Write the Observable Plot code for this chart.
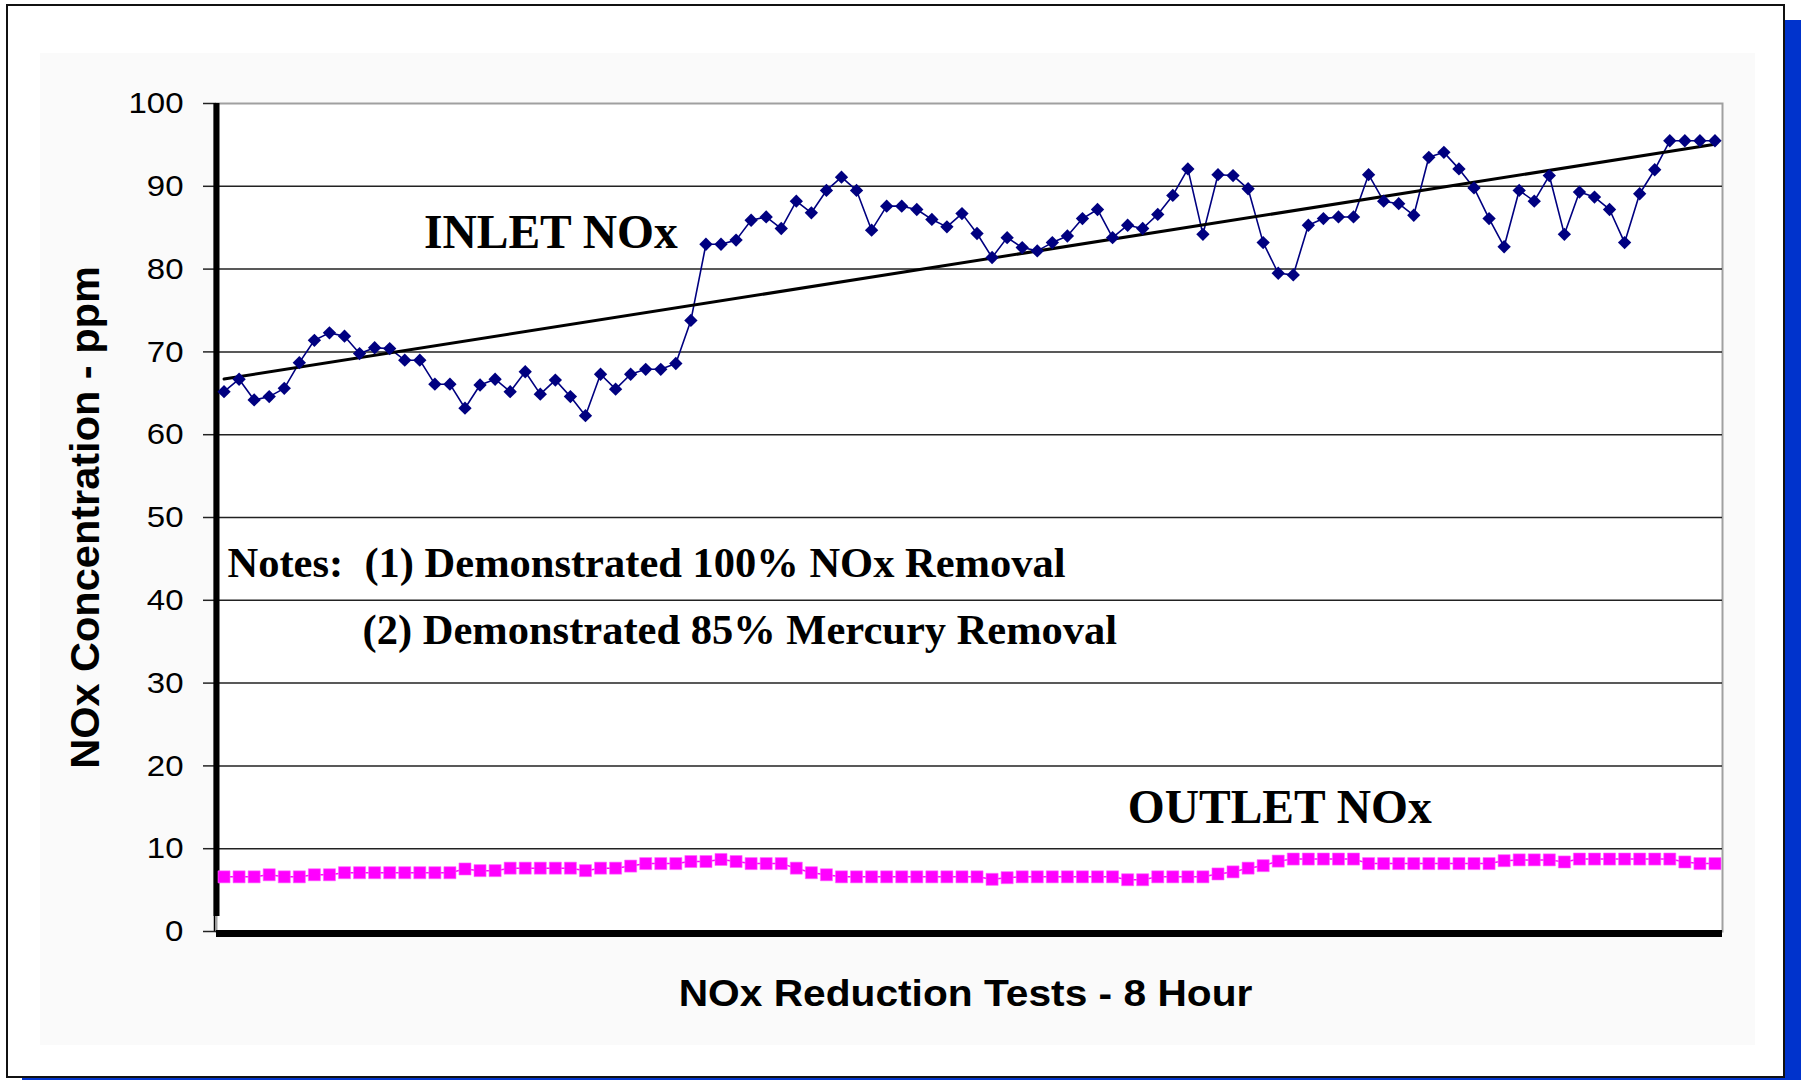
<!DOCTYPE html>
<html>
<head>
<meta charset="utf-8">
<script src="https://cdn.jsdelivr.net/npm/d3@7"></script>
<script src="https://cdn.jsdelivr.net/npm/@observablehq/plot@0.6"></script>
<style>
html, body { margin: 0; padding: 0; background: #fff; overflow: hidden; }
#page { position: relative; width: 1801px; height: 1080px; overflow: hidden; }
#shadow { position: absolute; left: 22px; top: 20px; width: 1779px; height: 1074px; background: #0033cc; }
#frame { position: absolute; left: 6px; top: 4px; width: 1775px; height: 1070px; border: 2px solid #111; background: #fff; }
#panel { position: absolute; left: 40px; top: 53px; width: 1715px; height: 992px; background: #fafafa; }
#chart { position: absolute; left: 0; top: 0; }
svg text { white-space: pre; }
</style>
</head>
<body>
<div id="page">
  <div id="shadow"></div>
  <div id="frame"></div>
  <div id="panel"></div>
  <div id="chart"></div>
</div>
<script>
// ---- data (100 readings, 8-hour test) ----
const inletNOx = [
  65.2, 66.7, 64.2, 64.6, 65.6, 68.7, 71.4, 72.3, 71.9, 69.8,
  70.5, 70.4, 69.0, 69.0, 66.1, 66.1, 63.2, 66.0, 66.7, 65.2,
  67.6, 64.9, 66.6, 64.6, 62.3, 67.3, 65.5, 67.3, 67.9, 67.9,
  68.6, 73.8, 83.0, 83.0, 83.5, 85.9, 86.3, 84.9, 88.2, 86.8,
  89.5, 91.1, 89.5, 84.7, 87.6, 87.6, 87.2, 86.0, 85.1, 86.7,
  84.3, 81.4, 83.8, 82.6, 82.2, 83.2, 84.0, 86.1, 87.2, 83.8,
  85.3, 84.9, 86.6, 88.9, 92.1, 84.2, 91.4, 91.3, 89.7, 83.2,
  79.5, 79.3, 85.3, 86.1, 86.3, 86.3, 91.4, 88.2, 87.9, 86.5,
  93.5, 94.1, 92.1, 89.8, 86.1, 82.7, 89.5, 88.2, 91.3, 84.2,
  89.3, 88.7, 87.2, 83.2, 89.1, 92.0, 95.5, 95.5, 95.5, 95.5
];
const outletNOx = [
  6.6, 6.6, 6.6, 6.85, 6.6, 6.6, 6.85, 6.85, 7.1, 7.1,
  7.1, 7.1, 7.1, 7.1, 7.1, 7.1, 7.55, 7.35, 7.35, 7.65,
  7.65, 7.65, 7.65, 7.65, 7.35, 7.65, 7.65, 7.9, 8.2, 8.2,
  8.2, 8.45, 8.45, 8.7, 8.45, 8.2, 8.2, 8.2, 7.65, 7.1,
  6.85, 6.6, 6.6, 6.6, 6.6, 6.6, 6.6, 6.6, 6.6, 6.6,
  6.6, 6.3, 6.5, 6.6, 6.6, 6.6, 6.6, 6.6, 6.6, 6.6,
  6.25, 6.25, 6.6, 6.6, 6.6, 6.6, 6.95, 7.2, 7.65, 7.95,
  8.5, 8.75, 8.75, 8.75, 8.75, 8.75, 8.2, 8.2, 8.2, 8.2,
  8.2, 8.2, 8.2, 8.2, 8.2, 8.55, 8.65, 8.65, 8.65, 8.4,
  8.75, 8.75, 8.75, 8.75, 8.75, 8.75, 8.75, 8.4, 8.2, 8.2
];
const yTicks = [0, 10, 20, 30, 40, 50, 60, 70, 80, 90, 100];
const yTitle = "NOx Concentration - ppm";
const xTitle = "NOx Reduction Tests - 8 Hour";
const inletLabel = "INLET NOx";
const outletLabel = "OUTLET NOx";
const noteLine1 = "Notes:  (1) Demonstrated 100% NOx Removal";
const noteLine2 = "(2) Demonstrated 85% Mercury Removal";

// ---- tables built from the arrays ----
const inlet = inletNOx.map((v, i) => ({k: i + 1, v}));
const outlet = outletNOx.map((v, i) => ({k: i + 1, v}));
const gridValues = yTicks.filter(t => t > 0 && t < 100);

const sans = "'Liberation Sans', Arial, sans-serif";
const serif = "'Liberation Serif', 'Times New Roman', serif";

const plot = Plot.plot({
  width: 1801,
  height: 1080,
  marginLeft: 216,
  marginRight: 79,
  marginTop: 103,
  marginBottom: 149,
  style: {background: "transparent", fontFamily: sans, color: "black", maxWidth: "none", overflow: "visible"},
  x: {domain: [0.5, 100.5], axis: null},
  y: {domain: [0, 100], axis: null},
  marks: [
    Plot.frame({fill: "white", stroke: "#a0a0a0", strokeWidth: 2}),
    Plot.ruleY(gridValues, {stroke: "#222", strokeWidth: 1.5}),
    Plot.axisY({ticks: yTicks, tickSize: 13, tickPadding: 20, fontSize: 30, label: null,
      stroke: "#222", strokeWidth: 1.5, tickFormat: d => String(d)}),
    // axis lines
    Plot.ruleX([0.5], {stroke: "black", strokeWidth: 1.5, dx: -2}),
    Plot.ruleX([{x: 0.5, y1: 1.8, y2: 100}], {x: "x", y1: "y1", y2: "y2", stroke: "black", strokeWidth: 6}),
    Plot.ruleY([0], {stroke: "black", strokeWidth: 7, dy: 2}),
    // outlet series
    Plot.line(outlet, {x: "k", y: "v", stroke: "#ff00ff", strokeWidth: 1.5}),
    Plot.dot(outlet, {x: "k", y: "v", symbol: "square", r: 6.8, fill: "#ff00ff", stroke: "#ff66ff", strokeWidth: 0.6}),
    // inlet series + trend
    Plot.line(inlet, {x: "k", y: "v", stroke: "#000080", strokeWidth: 1.6}),
    Plot.linearRegressionY(inlet, {x: "k", y: "v", stroke: "black", strokeWidth: 3, ci: 0}),
    Plot.dot(inlet, {x: "k", y: "v", symbol: "diamond2", r: 6, fill: "#000080", stroke: "none"}),
    // annotations
    Plot.text([{t: inletLabel, x: 22.7, y: 82.5}], {x: "x", y: "y", text: "t", fontFamily: serif,
      fontWeight: "bold", fontSize: 47.5, textAnchor: "middle", lineAnchor: "bottom", fill: "black"}),
    Plot.text([{t: outletLabel, x: 71.1, y: 13.1}], {x: "x", y: "y", text: "t", fontFamily: serif,
      fontWeight: "bold", fontSize: 47.5, textAnchor: "middle", lineAnchor: "bottom", fill: "black"}),
    Plot.text([{t: noteLine1, x: 1.23, y: 42.8}], {x: "x", y: "y", text: "t", fontFamily: serif,
      fontWeight: "bold", fontSize: 42.5, textAnchor: "start", lineAnchor: "bottom", fill: "black"}),
    Plot.text([{t: noteLine2, x: 10.2, y: 34.7}], {x: "x", y: "y", text: "t", fontFamily: serif,
      fontWeight: "bold", fontSize: 42.5, textAnchor: "start", lineAnchor: "bottom", fill: "black"}),
    // axis titles
    Plot.text([yTitle], {frameAnchor: "left", dx: -131, dy: 0, rotate: -90, fontSize: 41.5,
      fontWeight: "bold", lineAnchor: "middle", textAnchor: "middle", fill: "black"}),
    Plot.text([xTitle], {frameAnchor: "bottom", dx: -4, dy: 63, fontSize: 37,
      fontWeight: "bold", lineAnchor: "middle", textAnchor: "middle", fill: "black"})
  ]
});

document.getElementById("chart").append(plot);

// the sans-serif labels in the reference are slightly stretched horizontally
const stretched = new Set([xTitle]);
plot.querySelectorAll("text").forEach(t => {
  const s = t.textContent;
  const isTick = /^\d+$/.test(s);
  if (!isTick && !stretched.has(s)) return;
  const w = t.getComputedTextLength();
  if (w > 0) {
    t.setAttribute("textLength", (w * 1.1).toFixed(1));
    t.setAttribute("lengthAdjust", "spacingAndGlyphs");
  }
});
</script>
</body>
</html>
